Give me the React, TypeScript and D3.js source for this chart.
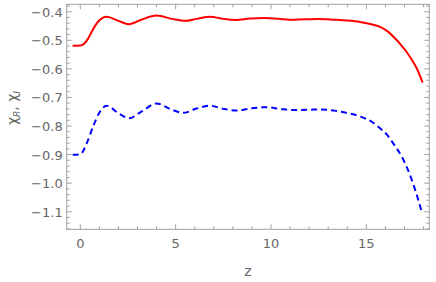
import React, { useEffect, useRef } from "react";
import * as d3 from "d3";

// chi_R (red, solid) vs z
const zR = [-0.4, 0.0, 0.2, 0.4, 0.6, 0.8, 1.0, 1.38, 2.0, 2.55, 3.2, 4.0, 4.8, 5.5, 6.1, 6.8, 7.5, 8.15, 8.9, 9.65, 10.4, 11.0, 11.8, 12.5, 13.3, 14.0, 14.67, 15.2, 15.72, 16.1, 16.5, 16.8, 17.1, 17.4, 17.64, 17.95];
const chiR = [-0.519, -0.518, -0.512, -0.495, -0.47, -0.447, -0.43, -0.4175, -0.432, -0.444, -0.428, -0.4135, -0.425, -0.432, -0.425, -0.4175, -0.425, -0.429, -0.424, -0.422, -0.425, -0.428, -0.4265, -0.4255, -0.428, -0.431, -0.436, -0.443, -0.453, -0.468, -0.493, -0.515, -0.54, -0.57, -0.598, -0.648];

// chi_I (blue, dashed) vs z
const zI = [-0.4, 0.0, 0.34, 0.68, 1.03, 1.38, 2.0, 2.55, 3.2, 4.0, 4.7, 5.4, 6.1, 6.8, 7.5, 8.2, 9.0, 9.7, 10.5, 11.1, 12.0, 12.6, 13.4, 14.1, 14.7, 15.3, 15.72, 16.1, 16.4, 16.94, 17.38, 17.72, 17.92];
const chiI = [-0.901, -0.899, -0.86, -0.80, -0.75, -0.729, -0.755, -0.773, -0.75, -0.721, -0.74, -0.754, -0.739, -0.729, -0.74, -0.746, -0.738, -0.734, -0.74, -0.744, -0.743, -0.742, -0.747, -0.756, -0.767, -0.786, -0.808, -0.832, -0.86, -0.918, -0.988, -1.058, -1.105];

const xTicks = [0, 5, 10, 15];
const yTicks = [-0.4, -0.5, -0.6, -0.7, -0.8, -0.9, -1.0, -1.1];

const App = () => {
    const svgRef = useRef(null);

    useEffect(() => {
        const width = 436;
        const height = 282;
        const left = 66.7, right = 429.3, top = 4.3, bottom = 229.3;
        const frameColor = "#a0a0a0";
        const textColor = "#666";
        const font = "DejaVu Sans, sans-serif";

        const svg = d3.select(svgRef.current);
        svg.selectAll("*").remove();
        svg.attr("width", width).attr("height", height);

        const x = d3.scaleLinear().domain([-0.713, 18.3]).range([left, right]);
        const y = d3.scaleLinear().domain([-0.374, -1.1615]).range([top, bottom]);

        // frame
        svg.append("rect")
            .attr("x", left).attr("y", top)
            .attr("width", right - left).attr("height", bottom - top)
            .attr("fill", "none").attr("stroke", frameColor).attr("stroke-width", 1);

        const g = svg.append("g").attr("stroke", frameColor).attr("stroke-width", 1);

        // x ticks (bottom and top, pointing inward)
        d3.range(0, 19, 1).forEach((t) => {
            const len = t % 5 === 0 ? 5 : 3;
            g.append("line").attr("x1", x(t)).attr("x2", x(t)).attr("y1", bottom).attr("y2", bottom - len);
            g.append("line").attr("x1", x(t)).attr("x2", x(t)).attr("y1", top).attr("y2", top + len);
        });

        // y ticks (left and right)
        d3.range(-1.16, -0.37, 0.02).map((v) => Math.round(v * 100) / 100).forEach((t) => {
            const len = Math.abs(Math.round(t * 100)) % 10 === 0 ? 5 : 3;
            g.append("line").attr("x1", left).attr("x2", left + len).attr("y1", y(t)).attr("y2", y(t));
            g.append("line").attr("x1", right).attr("x2", right - len).attr("y1", y(t)).attr("y2", y(t));
        });

        // tick labels
        svg.selectAll(".xl").data(xTicks).enter().append("text")
            .attr("x", (d) => x(d)).attr("y", bottom + 19)
            .attr("text-anchor", "middle")
            .attr("font-family", font).attr("font-size", 13).attr("fill", textColor)
            .text((d) => d);

        svg.selectAll(".yl").data(yTicks).enter().append("text")
            .attr("x", left - 4).attr("y", (d) => y(d) + 5)
            .attr("text-anchor", "end")
            .attr("font-family", font).attr("font-size", 13).attr("fill", textColor)
            .text((d) => "\u2212" + Math.abs(d).toFixed(1));

        // axis labels
        svg.append("text")
            .attr("x", 248).attr("y", 276)
            .attr("text-anchor", "middle")
            .attr("font-family", font).attr("font-size", 14).attr("fill", textColor)
            .text("z");

        const yl = svg.append("text")
            .attr("transform", "translate(17, 108) rotate(-90)")
            .attr("text-anchor", "middle")
            .attr("font-family", font).attr("font-size", 14).attr("fill", textColor);
        yl.append("tspan").text("\u03c7");
        yl.append("tspan").attr("font-size", 9).attr("font-style", "italic").attr("dy", 3).text("R");
        yl.append("tspan").attr("dy", -3).text(", \u03c7");
        yl.append("tspan").attr("font-size", 9).attr("font-style", "italic").attr("dy", 3).text("I");

        const line = d3.line()
            .x((d) => x(d[0]))
            .y((d) => y(d[1]))
            .curve(d3.curveMonotoneX);

        svg.append("path")
            .attr("d", line(zR.map((z, i) => [z, chiR[i]])))
            .attr("fill", "none").attr("stroke", "#ff0000").attr("stroke-width", 2);

        svg.append("path")
            .attr("d", line(zI.map((z, i) => [z, chiI[i]])))
            .attr("fill", "none").attr("stroke", "#0000ff").attr("stroke-width", 2)
            .attr("stroke-dasharray", "6,4");
    }, []);

    return <svg ref={svgRef} style={{ position: "absolute", left: 0, top: 0 }}></svg>;
};

export default App;
